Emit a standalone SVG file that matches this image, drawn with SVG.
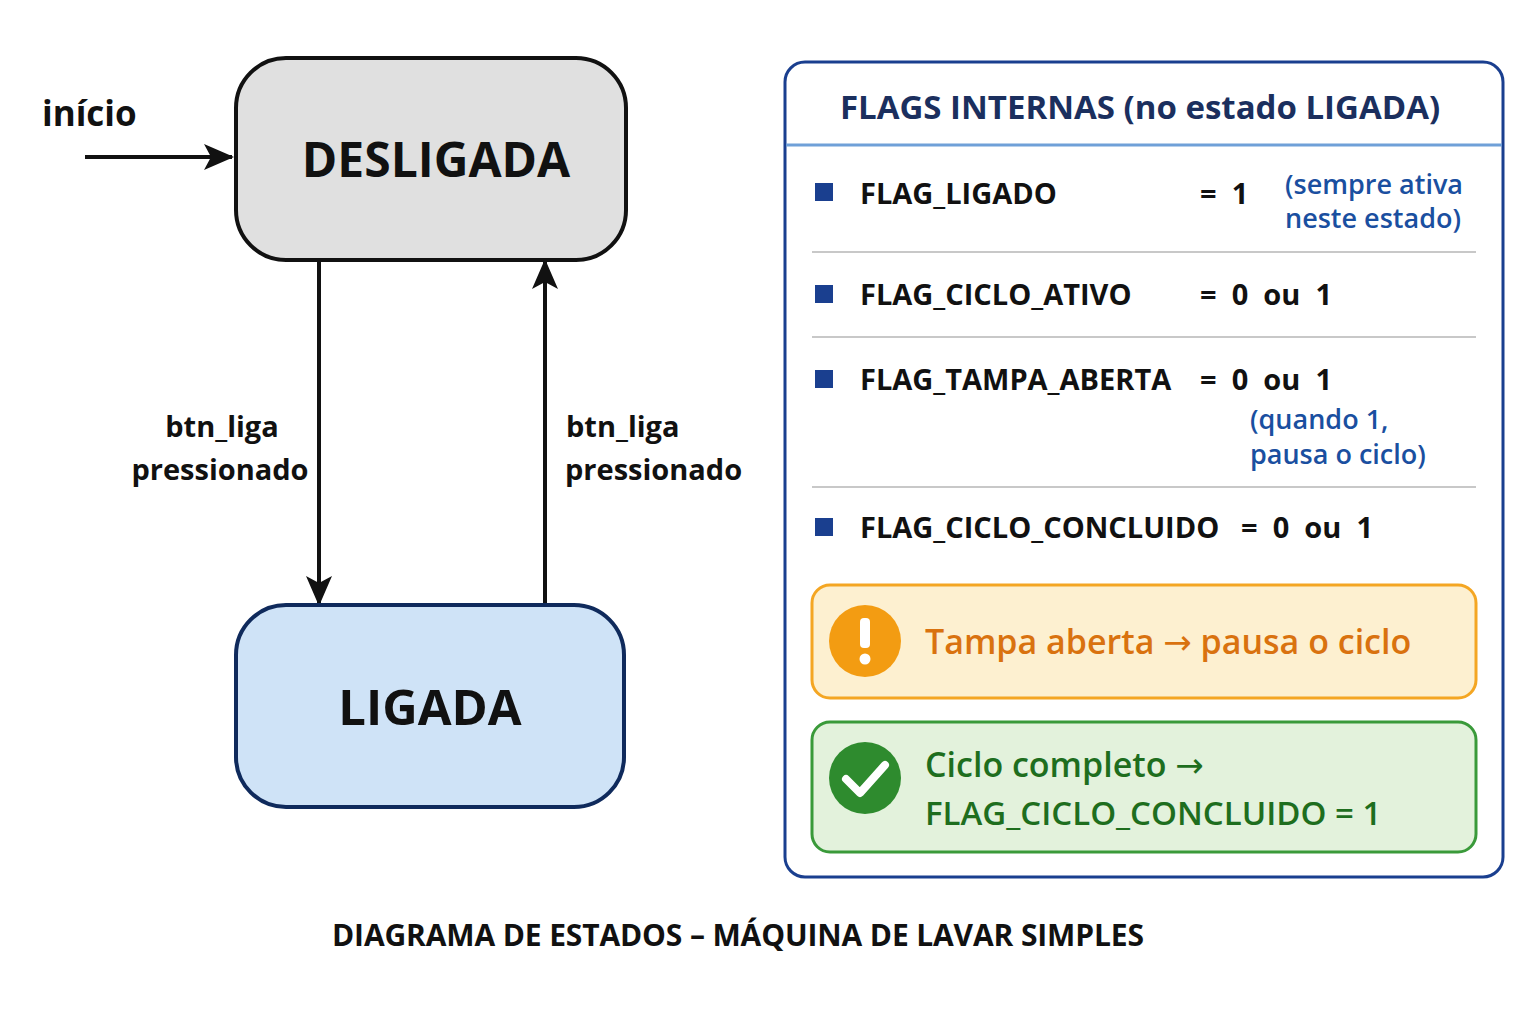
<svg xmlns="http://www.w3.org/2000/svg" width="1536" height="1024" viewBox="0 0 1536 1024">
<style>
text{font-family:"Open Sans","Liberation Sans",sans-serif;font-weight:bold}
.lbl{font-size:29px;fill:#111}
.row{font-size:29px;fill:#111}
.note{font-size:27px;fill:#1a4fa0;font-weight:600}
.sep{stroke:#c8c8c8;stroke-width:2}
.conn{stroke:#111;stroke-width:4;fill:none}
.ar{font-family:"DejaVu Sans",sans-serif;font-weight:normal}
</style>
<defs>
<marker id="ah" markerWidth="30" markerHeight="30" refX="28" refY="15" orient="auto" markerUnits="userSpaceOnUse" viewBox="0 0 30 30">
<path d="M0,2 L30,15 L0,28 L7,15 Z" fill="#111"/>
</marker>
</defs>
<rect width="1536" height="1024" fill="#fff"/>
<g id="connectors">
<text x="42" y="126" class="lbl" style="font-size:35px">início</text>
<line x1="85" y1="157" x2="232" y2="157" class="conn" marker-end="url(#ah)"/>
<line x1="319" y1="262" x2="319" y2="604" class="conn" marker-end="url(#ah)"/>
<line x1="545" y1="603" x2="545" y2="261" class="conn" marker-end="url(#ah)"/>
<text x="222" y="437" class="lbl" text-anchor="middle">btn_liga</text>
<text x="220" y="480" class="lbl" text-anchor="middle">pressionado</text>
<text x="566" y="437" class="lbl">btn_liga</text>
<text x="565" y="480" class="lbl">pressionado</text>
</g>
<g id="desligada">
<rect x="236" y="58" width="390" height="202" rx="50" fill="#e0e0e0" stroke="#111" stroke-width="4"/>
<text x="436" y="177" text-anchor="middle" style="font-size:48px;fill:#111">DESLIGADA</text>
</g>
<g id="ligada">
<rect x="236" y="605" width="388" height="202" rx="50" fill="#cfe3f7" stroke="#0f2a5c" stroke-width="4"/>
<text x="430" y="725" text-anchor="middle" style="font-size:49px;fill:#111">LIGADA</text>
</g>
<g id="flags">
<rect x="785" y="62" width="718" height="815" rx="20" fill="#fff" stroke="#1a3f8f" stroke-width="3"/>
<text x="1140" y="119" text-anchor="middle" style="font-size:33px;fill:#1b2f5e">FLAGS INTERNAS (no estado LIGADA)</text>
<line x1="786" y1="145" x2="1502" y2="145" stroke="#6fa0d8" stroke-width="3"/>
<g fill="#1a3f8f">
<rect x="815" y="183" width="18" height="18"/><rect x="815" y="285" width="18" height="18"/>
<rect x="815" y="370" width="18" height="18"/><rect x="815" y="518" width="18" height="18"/>
</g>
<text x="860" y="204" class="row">FLAG_LIGADO</text><text x="1200" y="204" class="row" xml:space="preserve">=  1</text>
<text x="1285" y="194" class="note">(sempre ativa</text><text x="1285" y="228" class="note">neste estado)</text>
<line x1="812" y1="252" x2="1476" y2="252" class="sep"/>
<text x="860" y="305" class="row">FLAG_CICLO_ATIVO</text><text x="1200" y="305" class="row" xml:space="preserve">=  0  ou  1</text>
<line x1="812" y1="337" x2="1476" y2="337" class="sep"/>
<text x="860" y="390" class="row">FLAG_TAMPA_ABERTA</text><text x="1200" y="390" class="row" xml:space="preserve">=  0  ou  1</text>
<text x="1250" y="429" class="note">(quando 1,</text><text x="1250" y="464" class="note">pausa o ciclo)</text>
<line x1="812" y1="487" x2="1476" y2="487" class="sep"/>
<text x="860" y="538" class="row">FLAG_CICLO_CONCLUIDO</text><text x="1241" y="538" class="row" xml:space="preserve">=  0  ou  1</text>
</g>
<g id="alert">
<rect x="812" y="585" width="664" height="113" rx="18" fill="#fdf0d0" stroke="#f4a623" stroke-width="3"/>
<circle cx="865" cy="641" r="36" fill="#f39c12"/>
<rect x="860" y="618" width="10" height="30" rx="4" fill="#fff"/><circle cx="865" cy="659" r="5.5" fill="#fff"/>
<text x="925" y="654" style="font-size:34px;fill:#d9720f;font-weight:600">Tampa aberta <tspan class="ar">→</tspan> pausa o ciclo</text>
</g>
<g id="done">
<rect x="812" y="722" width="664" height="130" rx="18" fill="#e3f2dc" stroke="#3a9a3a" stroke-width="3"/>
<circle cx="865" cy="778" r="36" fill="#2e8b2e"/>
<path d="M846,779 L860,793 L885,765" stroke="#fff" stroke-width="8" fill="none" stroke-linecap="round" stroke-linejoin="round"/>
<text x="925" y="777" style="font-size:34px;fill:#1e6e1e;font-weight:600">Ciclo completo <tspan class="ar">→</tspan></text>
<text x="925" y="825" style="font-size:33px;fill:#1e6e1e;font-weight:600">FLAG_CICLO_CONCLUIDO = 1</text>
</g>
<text x="738" y="946" text-anchor="middle" textLength="812" style="font-size:30px;fill:#111">DIAGRAMA DE ESTADOS – MÁQUINA DE LAVAR SIMPLES</text>
</svg>
